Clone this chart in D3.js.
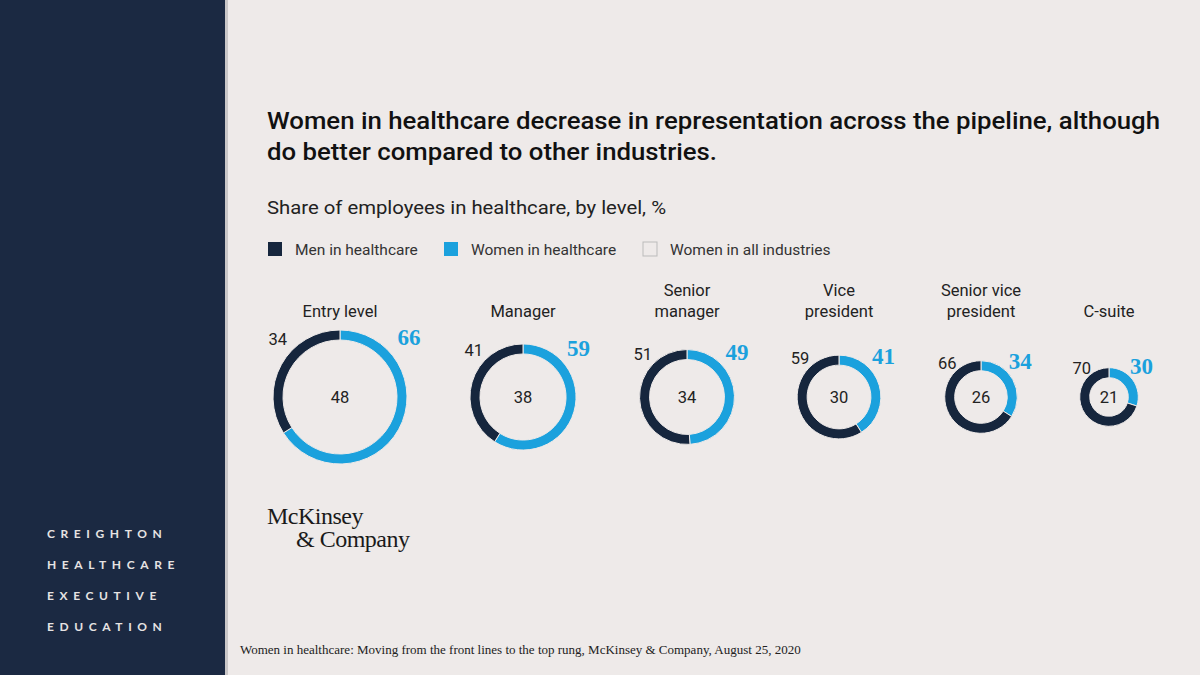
<!DOCTYPE html>
<html><head><meta charset="utf-8">
<script src="https://cdn.jsdelivr.net/npm/d3@7"></script>
<style>body{margin:0;}svg{display:block;}</style>
</head><body>
<svg id="c" width="1200" height="675"></svg>
<script>
const levels = ["Entry level","Manager","Senior\nmanager","Vice\npresident","Senior vice\npresident","C-suite"];
const men = [34,41,51,59,66,70];
const women = [66,59,49,41,34,30];
const allInd = [48,38,34,30,26,21];
const legendLabels = ["Men in healthcare","Women in healthcare","Women in all industries"];
const sideLabels = ["CREIGHTON","HEALTHCARE","EXECUTIVE","EDUCATION"];

const svg = d3.select("#c");
const navy="#16263d", blue="#1ba1dd";
svg.append("rect").attr("width",1200).attr("height",675).attr("fill","#eeeae9");
svg.append("rect").attr("width",225).attr("height",675).attr("fill","#1b2942");
svg.append("rect").attr("x",225).attr("width",3).attr("height",675).attr("fill","#c9c6c7");
sideLabels.forEach((t,i)=>svg.append("text").attr("x",47).attr("y",538+i*31).text(t)
  .attr("fill","#e6e3e3").attr("font-family","Lato, sans-serif").attr("font-weight",700)
  .attr("font-size",12).attr("letter-spacing","5.6px"));

const T = svg.append("g").attr("font-family","Roboto, 'Noto Sans', sans-serif");
T.append("text").attr("x",267).attr("y",129).text("Women in healthcare decrease in representation across the pipeline, although")
 .attr("font-size",24).attr("font-weight",500).attr("fill","#111").attr("textLength",893).attr("lengthAdjust","spacingAndGlyphs");
T.append("text").attr("x",267).attr("y",160).text("do better compared to other industries.")
 .attr("font-size",24).attr("font-weight",500).attr("fill","#111").attr("textLength",450).attr("lengthAdjust","spacingAndGlyphs");
T.append("text").attr("x",267).attr("y",214).text("Share of employees in healthcare, by level, %")
 .attr("font-size",19).attr("fill","#222").attr("textLength",399).attr("lengthAdjust","spacingAndGlyphs");

const lx=[268,444,643];
const lc=[navy,blue,"none"];
legendLabels.forEach((l,i)=>{
  T.append("rect").attr("x",lx[i]).attr("y",242).attr("width",14).attr("height",14)
   .attr("fill",lc[i]).attr("stroke",i==2?"#bbb":"none");
  T.append("text").attr("x",lx[i]+27).attr("y",255).text(l).attr("font-size",15.5).attr("fill","#333");
});

const centers=[340,523,687,839,981,1109];
const rScale = d3.scaleLinear().domain([0,48]).range([0,67]);
const cy=397, th=10;
levels.forEach((lv,i)=>{
  const x=centers[i], R=rScale(allInd[i]);
  const g=T.append("g").attr("transform",`translate(${x},${cy})`);
  const pie=d3.pie().sort(null).value(d=>d.v)([{v:women[i],c:blue},{v:men[i],c:navy}]);
  const arc=d3.arc().innerRadius(R-th).outerRadius(R);
  g.selectAll("path").data(pie).join("path").attr("d",arc).attr("fill",d=>d.data.c)
   .attr("stroke","#eeeae9").attr("stroke-width",1);
  g.append("text").attr("y",6).attr("text-anchor","middle").text(allInd[i]).attr("font-size",16.5).attr("fill","#222");
  const lines=lv.split("\n");
  lines.forEach((ln,j)=>g.append("text").attr("y",-80+(j-lines.length+1)*21).attr("text-anchor","middle")
    .text(ln).attr("font-size",16.5).attr("fill","#222"));
  g.append("text").attr("x",-R*0.93).attr("y",-R*0.78).attr("text-anchor","middle").text(men[i]).attr("font-size",16.5).attr("fill","#222");
  g.append("text").attr("x",R*0.97+4).attr("y",-R*0.78).attr("text-anchor","middle").text(women[i])
   .attr("font-size",23).attr("font-weight",700).attr("font-family","'Liberation Serif', serif").attr("fill",blue);
});

svg.append("text").attr("x",267).attr("y",524).text("McKinsey").attr("font-family","'Liberation Serif', serif").attr("font-size",24).attr("fill","#1a1a1a").attr("letter-spacing","-0.5px");
svg.append("text").attr("x",296).attr("y",547).text("& Company").attr("font-family","'Liberation Serif', serif").attr("font-size",24).attr("fill","#1a1a1a").attr("letter-spacing","-0.5px");
svg.append("text").attr("x",240).attr("y",654).text("Women in healthcare: Moving from the front lines to the top rung, McKinsey & Company, August 25, 2020")
 .attr("font-family","'Liberation Serif', serif").attr("font-size",13).attr("fill","#222");
</script></body></html>
